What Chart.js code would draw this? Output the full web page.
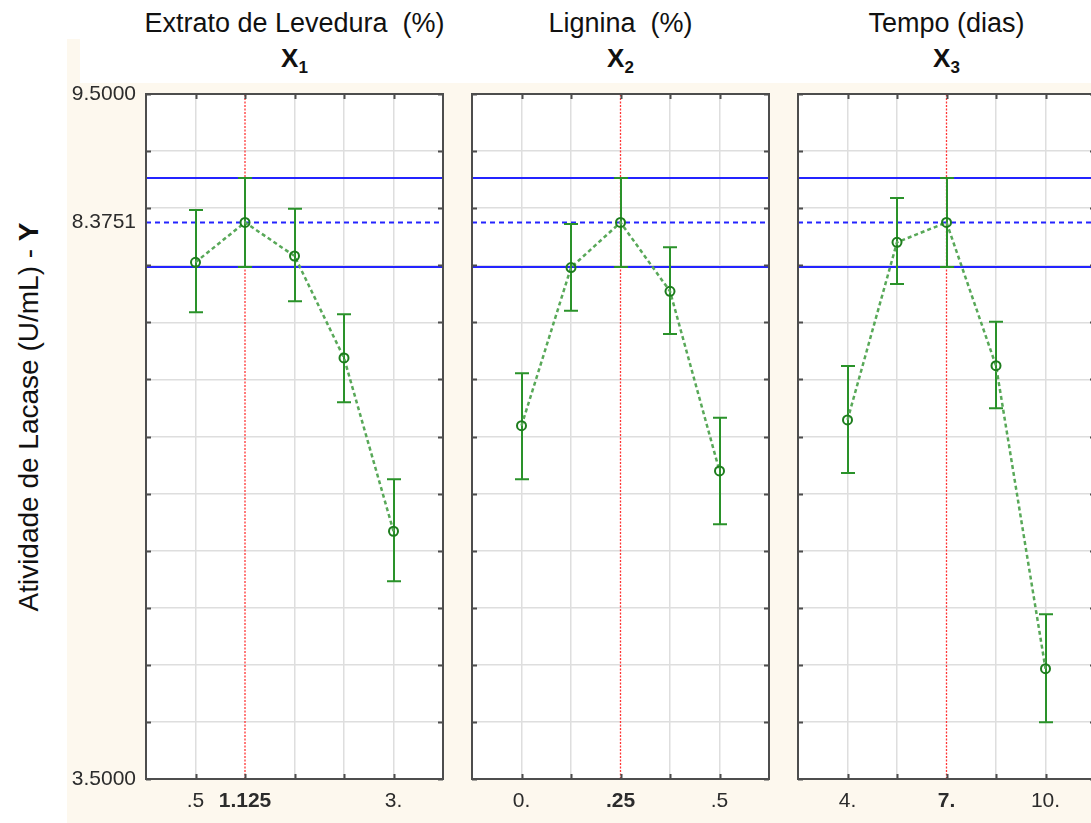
<!DOCTYPE html>
<html>
<head>
<meta charset="utf-8">
<script src="https://cdn.jsdelivr.net/npm/chart.js@4.4.0/dist/chart.umd.min.js"></script>
<style>
  html, body { margin: 0; padding: 0; background: #fff; width: 1091px; height: 823px; overflow: hidden;
               font-family: "Liberation Sans", Arial, sans-serif; }
  #bg  { position: absolute; left: 67px; top: 83px; width: 1024px; height: 740px; background: #fdf8ee; }
  #bg2 { position: absolute; left: 67px; top: 39px; width: 13px;  height: 44px;  background: #fdf8ee; }
  canvas { position: absolute; }
  .ttl { position: absolute; width: 400px; text-align: center; font-size: 27px; line-height: 26px;
         color: #111; white-space: pre; }
  .var { position: absolute; width: 200px; text-align: center; font-size: 26px; line-height: 26px;
         font-weight: bold; color: #111; }
  .var sub { font-size: 17px; vertical-align: baseline; position: relative; top: 6px; }
  #ylab { position: absolute; left: 29px; top: 417px; transform: translate(-50%, -50%) rotate(-90deg);
          white-space: pre; font-size: 28px; color: #111; }
</style>
</head>
<body>
<div id="bg"></div>
<div id="bg2"></div>
<div id="ylab">Atividade de Lacase (U/mL) - <b>Y</b></div>

<script>
// Factor names and variable codes
const panelTitles = ['Extrato de Levedura  (%)', 'Lignina  (%)', 'Tempo (dias)'];
const panelCodes  = ['1', '2', '3'];

// Response scale
const yMin = 3.5, yMax = 9.5;
const yGridValues = [3.5, 4, 4.5, 5, 5.5, 6, 6.5, 7, 7.5, 8, 8.5, 9, 9.5];
const meanY  = 8.3751;   // overall mean (dashed line)
const ciLow  = 7.985;    // lower confidence limit (solid line)
const ciHigh = 8.765;    // upper confidence limit (solid line)

// X1 - Extrato de Levedura
const x1Levels = [0.5, 1.125, 1.75, 2.375, 3];
const x1Labels = ['.5', '1.125', '', '', '3.'];
const x1Means  = [8.026, 8.3751, 8.081, 7.188, 5.670];
const x1Low    = [7.588, 7.985, 7.684, 6.799, 5.232];
const x1High   = [8.484, 8.765, 8.495, 7.570, 6.125];
const x1Center = 1.125;

// X2 - Lignina
const x2Levels = [0, 0.125, 0.25, 0.375, 0.5];
const x2Labels = ['0.', '', '.25', '', '.5'];
const x2Means  = [6.595, 7.980, 8.3751, 7.772, 6.198];
const x2Low    = [6.125, 7.602, 7.985, 7.398, 5.731];
const x2High   = [7.054, 8.361, 8.765, 8.157, 6.665];
const x2Center = 0.25;

// X3 - Tempo
const x3Levels = [4, 5.5, 7, 8.5, 10];
const x3Labels = ['4.', '', '7.', '', '10.'];
const x3Means  = [6.645, 8.201, 8.3751, 7.120, 4.466];
const x3Low    = [6.180, 7.836, 7.985, 6.747, 3.997];
const x3High   = [7.118, 8.589, 8.765, 7.506, 4.943];
const x3Center = 7;

const FONT = '"Liberation Sans", Arial, sans-serif';
const GRID = '#dedede';
const FRAME = '#4d4d4d';
const TXT = '#2c2c2c';

// White plotting area, dark frame and inward tick marks
const framePlugin = {
  id: 'panelFrame',
  beforeDraw(chart) {
    const c = chart.ctx, a = chart.chartArea;
    c.save();
    c.fillStyle = '#fff';
    c.fillRect(a.left, a.top, a.width, a.height);
    c.restore();
  },
  afterDraw(chart) {
    const c = chart.ctx, a = chart.chartArea, xs = chart.scales.x, ys = chart.scales.y;
    c.save();
    c.strokeStyle = FRAME;
    c.lineWidth = 2;
    c.beginPath();
    xs.ticks.forEach(t => {
      const px = Math.round(xs.getPixelForValue(t.value)) + 0.5;
      c.moveTo(px, a.bottom); c.lineTo(px, a.bottom - 5);
      c.moveTo(px, a.top);    c.lineTo(px, a.top + 5);
    });
    ys.ticks.forEach(t => {
      if (t.value === meanY) return;
      const py = Math.round(ys.getPixelForValue(t.value)) + 0.5;
      c.moveTo(a.left, py);  c.lineTo(a.left + 5, py);
      c.moveTo(a.right, py); c.lineTo(a.right - 5, py);
    });
    c.stroke();
    c.strokeRect(a.left, a.top, a.width, a.height);
    c.restore();
  }
};

// Vertical error bars with caps, drawn under the means line
const errorBarPlugin = {
  id: 'errorBars',
  beforeDatasetDraw(chart, args) {
    const ds = chart.data.datasets[args.index];
    if (!ds.errLow) return;
    const c = chart.ctx, xs = chart.scales.x, ys = chart.scales.y;
    c.save();
    c.strokeStyle = ds.errColor;
    c.lineWidth = 2;
    c.setLineDash([]);
    c.beginPath();
    ds.data.forEach((p, i) => {
      const px = Math.round(xs.getPixelForValue(p.x));
      const lo = ys.getPixelForValue(ds.errLow[i]);
      const hi = ys.getPixelForValue(ds.errHigh[i]);
      c.moveTo(px, lo); c.lineTo(px, hi);
      c.moveTo(px - 7, lo); c.lineTo(px + 7, lo);
      c.moveTo(px - 7, hi); c.lineTo(px + 7, hi);
    });
    c.stroke();
    c.restore();
  }
};

function makePanel(cfg) {
  const canvas = document.createElement('canvas');
  canvas.width = cfg.width;
  canvas.height = 740;
  canvas.style.left = cfg.left + 'px';
  canvas.style.top = '83px';
  canvas.style.width = cfg.width + 'px';
  canvas.style.height = '740px';
  document.body.appendChild(canvas);

  const lev = cfg.levels;
  const step = lev[1] - lev[0];
  const xMin = lev[0] - step, xMax = lev[lev.length - 1] + step;

  const hLine = (yv) => [{ x: xMin, y: yv }, { x: xMax, y: yv }];

  new Chart(canvas, {
    type: 'scatter',
    data: {
      datasets: [
        {
          data: lev.map((v, i) => ({ x: v, y: cfg.means[i] })),
          showLine: true,
          borderColor: '#58a858',
          borderWidth: 2.5,
          borderDash: [4, 3],
          pointRadius: 4.5,
          pointBorderWidth: 2,
          pointBorderColor: '#1d7d1d',
          pointBackgroundColor: 'rgba(0,0,0,0)',
          errLow: cfg.low,
          errHigh: cfg.high,
          errColor: '#2a922a',
          order: 1
        },
        { data: hLine(meanY),  showLine: true, borderColor: '#2424ff', borderWidth: 2, borderDash: [5, 4], pointRadius: 0, order: 3 },
        { data: hLine(ciHigh), showLine: true, borderColor: '#2424ff', borderWidth: 2, pointRadius: 0, order: 3 },
        { data: hLine(ciLow),  showLine: true, borderColor: '#2424ff', borderWidth: 2, pointRadius: 0, order: 3 },
        {
          data: [{ x: cfg.center, y: yMin }, { x: cfg.center, y: yMax }],
          showLine: true, borderColor: '#ff3535', borderWidth: 1.3, borderDash: [2, 1.5], pointRadius: 0, order: 4
        }
      ]
    },
    options: {
      responsive: false,
      animation: false,
      devicePixelRatio: 1,
      layout: { padding: { top: 11, right: cfg.padRight, left: 0, bottom: 0 } },
      plugins: { legend: { display: false }, tooltip: { enabled: false } },
      scales: {
        x: {
          type: 'linear', min: xMin, max: xMax,
          afterBuildTicks: s => { s.ticks = lev.map(v => ({ value: v })); },
          afterFit: s => { s.height = 44; s.paddingLeft = 0; s.paddingRight = 0; },
          border: { display: false },
          grid: {
            color: c => (c.tick && c.tick.value === cfg.center) ? 'rgba(0,0,0,0)' : GRID,
            lineWidth: 1.5, drawTicks: false
          },
          ticks: {
            autoSkip: false, maxRotation: 0, padding: 10, color: TXT,
            callback: (v, i) => cfg.labels[i],
            font: c => ({ family: FONT, size: 21, weight: (c.tick && c.tick.value === cfg.center) ? 'bold' : 'normal' })
          }
        },
        y: {
          type: 'linear', min: yMin, max: yMax,
          afterBuildTicks: s => {
            const vals = yGridValues.slice();
            vals.splice(vals.indexOf(8.5), 0, meanY);
            s.ticks = vals.map(v => ({ value: v }));
          },
          afterFit: s => { s.width = cfg.yAxisW; s.paddingTop = 0; s.paddingBottom = 0; },
          border: { display: false },
          grid: {
            color: c => (c.tick && c.tick.value === meanY) ? 'rgba(0,0,0,0)' : GRID,
            lineWidth: 1.5, drawTicks: false
          },
          ticks: {
            display: cfg.showY, autoSkip: false, padding: 10, color: TXT,
            font: { family: FONT, size: 21 },
            callback: v => (v === yMax || v === yMin || v === meanY) ? v.toFixed(4) : ''
          }
        }
      }
    },
    plugins: [framePlugin, errorBarPlugin]
  });

  // Panel headings
  const mid = cfg.left + cfg.yAxisW + 297 / 2;
  const t = document.createElement('div');
  t.className = 'ttl';
  t.style.left = (mid - 200) + 'px';
  t.style.top = '10px';
  t.textContent = cfg.title;
  document.body.appendChild(t);
  const v = document.createElement('div');
  v.className = 'var';
  v.style.left = (mid - 100) + 'px';
  v.style.top = '45px';
  v.innerHTML = 'X<sub>' + cfg.code + '</sub>';
  document.body.appendChild(v);
}

makePanel({ left: 67,  width: 390, yAxisW: 79, padRight: 14, showY: true,
            levels: x1Levels, labels: x1Labels, means: x1Means, low: x1Low, high: x1High, center: x1Center,
            title: panelTitles[0], code: panelCodes[0] });
makePanel({ left: 462, width: 321, yAxisW: 10, padRight: 14, showY: false,
            levels: x2Levels, labels: x2Labels, means: x2Means, low: x2Low, high: x2High, center: x2Center,
            title: panelTitles[1], code: panelCodes[1] });
makePanel({ left: 788, width: 321, yAxisW: 10, padRight: 14, showY: false,
            levels: x3Levels, labels: x3Labels, means: x3Means, low: x3Low, high: x3High, center: x3Center,
            title: panelTitles[2], code: panelCodes[2] });
</script>
</body>
</html>
